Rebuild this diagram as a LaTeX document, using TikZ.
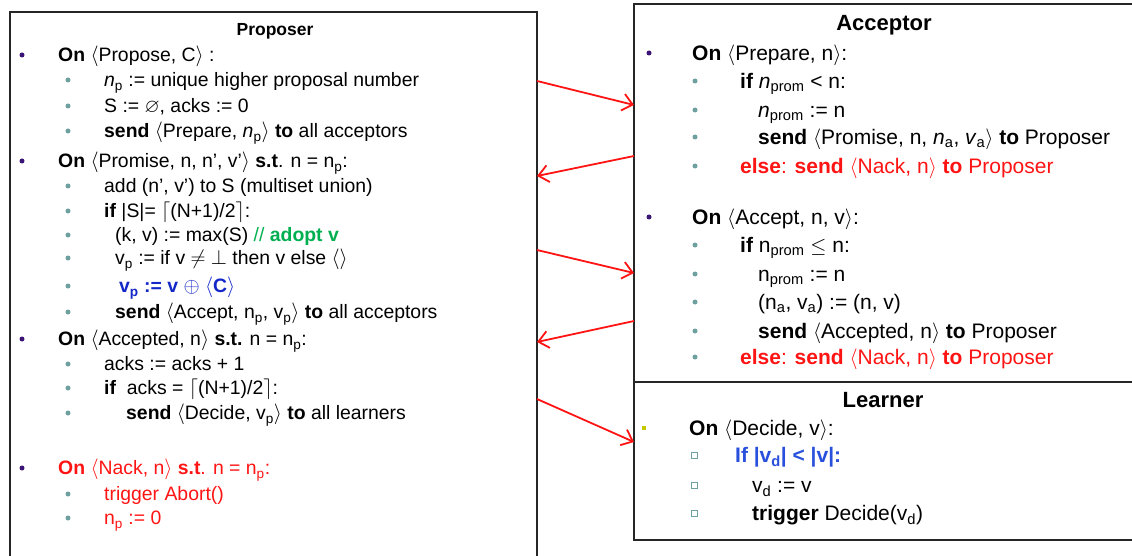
\documentclass[tikz,border=0pt]{standalone}
\usepackage{amssymb}
\usepackage{fontspec}
\setmainfont{Liberation Sans}
\usetikzlibrary{arrows.meta}
\definecolor{bulpurple}{RGB}{60,20,120}
\definecolor{bulteal}{RGB}{110,160,160}
\definecolor{msgred}{RGB}{255,20,20}
\definecolor{adoptgreen}{RGB}{0,176,80}
\definecolor{vpblue}{RGB}{20,40,200}
\definecolor{ifblue}{RGB}{40,80,220}
\definecolor{sqyellow}{RGB}{200,200,0}
\newcommand{\lang}{$\langle$}
\newcommand{\rang}{$\rangle$}
\newcommand{\lo}[1]{\textsubscript{#1}}
\begin{document}
\begin{tikzpicture}[x=1pt, y=-1pt,
  boxline/.style={line width=2pt, draw=black!85},
  title/.style={font=\fontsize{22}{24}\selectfont\bfseries, inner sep=0pt},
  ptxt/.style={anchor=west, inner sep=0pt, text height=13.8pt, text depth=0pt, font=\fontsize{19.4}{22}\selectfont},
  atxt/.style={anchor=west, inner sep=0pt, text height=15pt, text depth=0pt, font=\fontsize{21}{24}\selectfont},
  dotA/.style={circle, fill=bulpurple, inner sep=0pt, minimum size=5pt},
  dotB/.style={circle, fill=bulteal, inner sep=0pt, minimum size=5pt},
  sqA/.style={rectangle, fill=sqyellow, inner sep=0pt, minimum size=4.5pt},
  sqB/.style={rectangle, draw=bulteal, line width=0.8pt, inner sep=0pt, minimum size=6pt},
  msg/.style={draw=msgred, line width=1.8pt, -{Straight Barb[length=10pt, width=17pt, line width=1.8pt]}}]
\useasboundingbox (0,0) rectangle (1132,556);
\fill[white] (0,0) rectangle (1132,556);
% boxes
\draw[boxline] (10,556) -- (10,12) -- (537,12) -- (537,556);
\draw[boxline] (1132,4) -- (634,4) -- (634,540) -- (1132,540);
\draw[boxline] (634,382) -- (1132,382);
% proposer
\node[title, font=\fontsize{17.5}{20}\selectfont\bfseries] (ptitle) at (275,31) {Proposer};
\node[ptxt] (p1) at (58,55) {\textbf{On} \lang Propose, C\rang{} :};
\node[ptxt] (p2) at (104,80) {\textit{n}\lo{p} := unique higher proposal number};
\node[ptxt] (p3) at (104,106) {S := $\varnothing$, acks := 0};
\node[ptxt] (p4) at (104,131) {\textbf{send} \lang Prepare, \textit{n}\lo{p}\rang{} \textbf{to} all acceptors};
\node[ptxt] (p5) at (58,161) {\textbf{On} \lang Promise, n, n', v'\rang{} \textbf{s.t}. n = n\lo{p}:};
\node[ptxt] (p6) at (104,186) {add (n', v') to S (multiset union)};
\node[ptxt] (p7) at (104,211) {\textbf{if} |S|= $\lceil$(N+1)/2$\rceil$:};
\node[ptxt] (p8) at (115,235) {(k, v) := max(S) \textcolor{adoptgreen}{// \textbf{adopt v}}};
\node[ptxt] (p9) at (115,258) {v\lo{p} := if v $\neq$ $\perp$ then v else $\langle\rangle$};
\node[ptxt, text=vpblue] (p10) at (119,286) {\textbf{v\lo{p} := v} $\oplus$ \textbf{\lang C\rang}};
\node[ptxt] (p11) at (115,312) {\textbf{send} \lang Accept, n\lo{p}, v\lo{p}\rang{} \textbf{to} all acceptors};
\node[ptxt] (p12) at (58,339) {\textbf{On} \lang Accepted, n\rang{} \textbf{s.t.} n = n\lo{p}:};
\node[ptxt] (p13) at (104,364) {acks := acks + 1};
\node[ptxt] (p14) at (104,388) {\textbf{if}\ \ acks = $\lceil$(N+1)/2$\rceil$:};
\node[ptxt] (p15) at (126,413) {\textbf{send} \lang Decide, v\lo{p}\rang{} \textbf{to} all learners};
\node[ptxt, text=msgred] (p16) at (58,468) {\textbf{On} \lang Nack, n\rang{} \textbf{s.t}. n = n\lo{p}:};
\node[ptxt, text=msgred] (p17) at (104,494) {trigger Abort()};
\node[ptxt, text=msgred] (p18) at (104,518) {n\lo{p} := 0};
\foreach \y in {55,161,339,468} \node[dotA] at (22,\y) {};
\foreach \y in {80,106,131,186,211,235,258,286,312,364,388,413,494,518} \node[dotB] at (68,\y) {};
% acceptor
\node[title] (atitle) at (884,25) {Acceptor};
\node[atxt] (a1) at (692,53) {\textbf{On} \lang Prepare, n\rang:};
\node[atxt] (a2) at (740,81) {\textbf{if} \textit{n}\lo{prom} < n:};
\node[atxt] (a3) at (758,110) {\textit{n}\lo{prom} := n};
\node[atxt] (a4) at (758,137) {\textbf{send} \lang Promise, n, \textit{n}\lo{a}, \textit{v}\lo{a}\rang{} \textbf{to} Proposer};
\node[atxt, text=msgred] (a5) at (740,166) {\textbf{else}: \textbf{send} \lang Nack, n\rang{} \textbf{to} Proposer};
\node[atxt] (a6) at (692,217) {\textbf{On} \lang Accept, n, v\rang:};
\node[atxt] (a7) at (740,245) {\textbf{if} n\lo{prom} $\leq$ n:};
\node[atxt] (a8) at (758,274) {n\lo{prom} := n};
\node[atxt] (a9) at (758,302) {(n\lo{a}, v\lo{a}) := (n, v)};
\node[atxt] (a10) at (758,331) {\textbf{send} \lang Accepted, n\rang{} \textbf{to} Proposer};
\node[atxt, text=msgred] (a11) at (740,357) {\textbf{else}: \textbf{send} \lang Nack, n\rang{} \textbf{to} Proposer};
\foreach \y in {53,217} \node[dotA] at (649,\y) {};
\foreach \y in {81,110,137,166,245,274,302,331,357} \node[dotB] at (695,\y) {};
% learner
\node[title] (ltitle) at (883,400) {Learner};
\node[atxt] (l1) at (689,428) {\textbf{On} \lang Decide, v\rang:};
\node[atxt, text=ifblue, font=\fontsize{21}{24}\selectfont\bfseries] (l2) at (735,455) {If |v\lo{d}| < |v|:};
\node[atxt] (l3) at (752,485) {v\lo{d} := v};
\node[atxt] (l4) at (752,513) {\textbf{trigger} Decide(v\lo{d})};
\node[sqA] at (644,428) {};
\foreach \y in {455,485,513} \node[sqB] at (694,\y) {};
% messages
\coordinate (prepareFrom) at (537,81);
\coordinate (prepareTo) at (634,105);
\coordinate (promiseFrom) at (634,156);
\coordinate (promiseTo) at (537,176);
\coordinate (acceptFrom) at (537,250);
\coordinate (acceptTo) at (634,273);
\coordinate (acceptedFrom) at (634,321);
\coordinate (acceptedTo) at (537,342);
\coordinate (decideFrom) at (537,399);
\coordinate (decideTo) at (634,442);
\draw[msg] (prepareFrom) -- (prepareTo);
\draw[msg] (promiseFrom) -- (promiseTo);
\draw[msg] (acceptFrom) -- (acceptTo);
\draw[msg] (acceptedFrom) -- (acceptedTo);
\draw[msg] (decideFrom) -- (decideTo);
\end{tikzpicture}
\end{document}
